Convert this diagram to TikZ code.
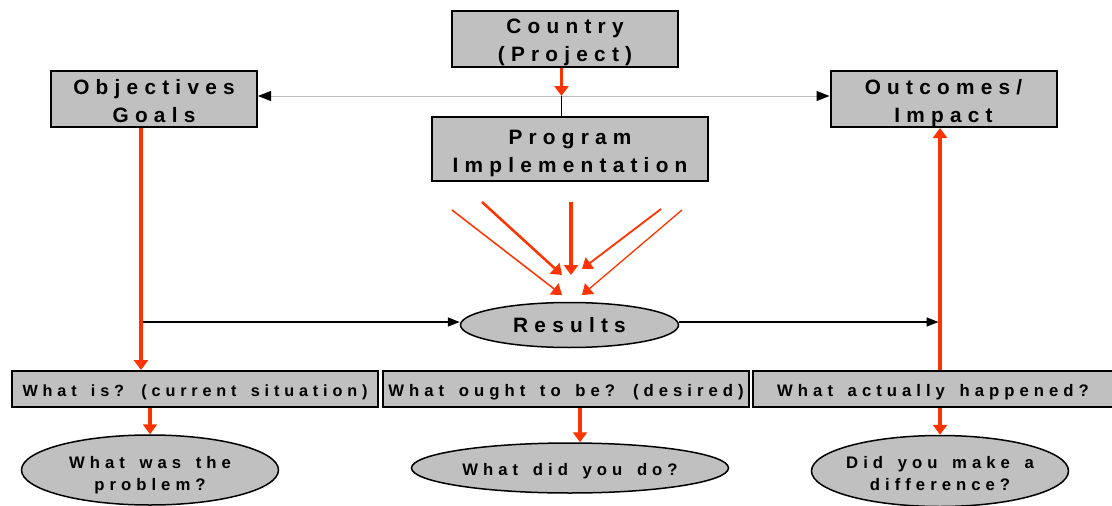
\documentclass[tikz,border=0pt]{standalone}
\usepackage{fontspec}
\newfontfamily\labfont[LetterSpace=30]{Liberation Sans}
\usetikzlibrary{arrows.meta,shapes.geometric}
\definecolor{boxgray}{HTML}{C0C0C0}
\definecolor{myred}{HTML}{FF3300}
\definecolor{lgray}{HTML}{BEBEBE}
\newcommand\wsp{\spaceskip=0.878em\relax}
\newcommand\twoln[2]{\makebox[0pt]{\wsp\vtop{\halign{\hfil##\hfil\cr #1\cr #2\cr}}}}
\newcommand\oneln[1]{{\wsp #1}}
\begin{document}
\begin{tikzpicture}[x=1pt,y=-1pt,
  bigtxt/.style={font=\labfont\bfseries\fontsize{20.8}{28}\selectfont},
  smalltxt/.style={font=\labfont\bfseries\fontsize{16.7}{22}\selectfont},
  topbox/.style={draw=black,line width=2pt,fill=boxgray,inner sep=0pt,bigtxt,text height=15pt,text depth=25pt},
  botbox/.style={draw=black,line width=2pt,fill=boxgray,inner sep=0pt,smalltxt,minimum height=36pt,text height=14pt,text depth=0pt},
  oval/.style={ellipse,draw=black,line width=1.5pt,fill=boxgray,inner sep=0pt,smalltxt},
  redarr/.style={draw=myred,line width=3.5pt,-{Triangle[length=10pt,width=14pt]}},
  blkarr/.style={draw=black,line width=1.5pt,-{Triangle[length=12pt,width=9pt]}},
  grayarr/.style={draw=lgray,line width=1pt,-{Triangle[length=13pt,width=10pt,color=black]}},
]
\useasboundingbox (0,0) rectangle (1112,506);
\fill[white] (0,0) rectangle (1112,506);

% top boxes
\node[topbox,minimum width=226pt,minimum height=56pt] (country) at (565,39) {\twoln{Country}{(Project)}};
\node[topbox,minimum width=206pt,minimum height=56pt] (obj) at (154,99) {\twoln{Objectives}{Goals}};
\node[topbox,minimum width=226pt,minimum height=56pt] (out) at (943.5,99) {\twoln{Outcomes/}{Impact}};
\node[topbox,minimum width=276pt,minimum height=64pt] (prog) at (570,149) {\twoln{Program}{Implementation}};

% results
\node[oval,bigtxt,minimum width=218pt,minimum height=45pt,text height=15pt,text depth=0pt] (res) at (569.5,325) {\oneln{Results}};

% bottom boxes
\node[botbox,minimum width=366pt,font=\labfont\bfseries\fontsize{16.2}{22}\selectfont] (q1) at (195,389) {\oneln{What is? (current situation)}};
\node[botbox,minimum width=366pt] (q2) at (566,389) {\oneln{What ought to be? (desired)}};
\node[botbox,minimum width=360pt] (q3) at (933,389) {\oneln{What actually happened?}};

% bottom ellipses
\node[oval,minimum width=257pt,minimum height=70pt,text height=12pt,text depth=16pt] (p1) at (150,470) {\twoln{What was the}{problem?}};
\node[oval,minimum width=317pt,minimum height=50pt,text height=14pt,text depth=0pt] (p2) at (570,468) {\oneln{What did you do?}};
\node[oval,minimum width=257pt,minimum height=71pt,text height=12pt,text depth=18pt] (p3) at (940,471) {\twoln{Did you make a}{difference?}};

% top connectors
\coordinate (hub) at (561.5,96);
\draw[grayarr] (hub) -- (hub -| obj.east);
\draw[grayarr] (hub) -- (hub -| out.west);
\draw[black,line width=1.5pt] (hub) -- (hub |- prog.north);
\draw[redarr,line width=3pt] (country.south -| hub) -- (hub);

% side connectors
\coordinate (lj) at (141,322);
\coordinate (rj) at (940,322);
\draw[blkarr] (lj) -- (lj -| res.west);
\draw[blkarr] (res.east |- rj) -- ([xshift=-1.5pt]rj);
\draw[redarr] (obj.south -| lj) -- (q1.north -| lj);
\draw[redarr] (q3.north -| rj) -- (out.south -| rj);

% arrows into results
\coordinate (sA) at (452,210); \coordinate (tA) at (562,295);
\coordinate (sB) at (482,202); \coordinate (tB) at (562,275);
\coordinate (sC) at (571,202); \coordinate (tC) at (571,275);
\coordinate (sD) at (661,209); \coordinate (tD) at (582,269);
\coordinate (sE) at (682,210); \coordinate (tE) at (582,295);
\draw[redarr,line width=1.5pt] (sA) -- (tA);
\draw[redarr,line width=2.5pt] (sB) -- (tB);
\draw[redarr,line width=3.5pt] (sC) -- (tC);
\draw[redarr,line width=1.8pt] (sD) -- (tD);
\draw[redarr,line width=1.3pt] (sE) -- (tE);

% bottom arrows
\coordinate (a2) at (580,0);
\draw[redarr] (q1.south -| p1.north) -- (p1.north);
\draw[redarr] (q2.south -| a2) -- (p2.north -| a2);
\draw[redarr] (q3.south -| p3.north) -- (p3.north);
\end{tikzpicture}
\end{document}
